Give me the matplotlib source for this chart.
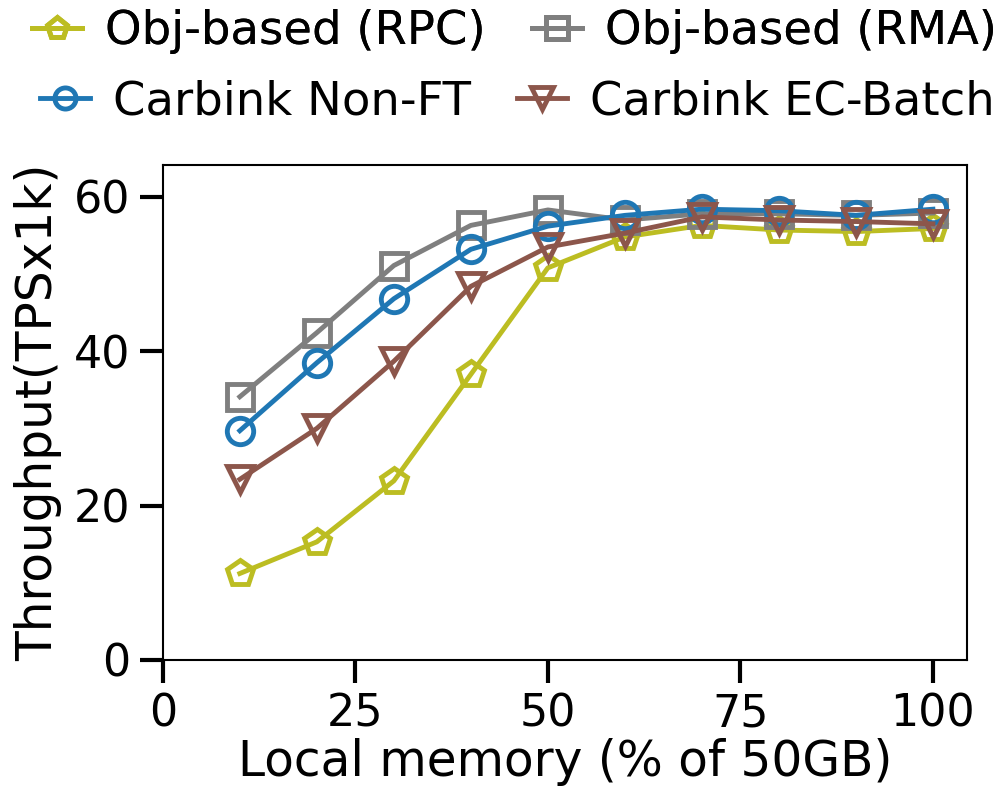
import matplotlib
matplotlib.use("Agg")
import matplotlib.pyplot as plt

x = [10, 20, 30, 40, 50, 60, 70, 80, 90, 100]
rpc = [11.2, 15.3, 23.2, 37.0, 50.8, 54.8, 56.3, 55.7, 55.5, 55.9]
rma = [34.1, 42.4, 51.1, 56.3, 58.3, 57.0, 57.8, 57.8, 57.6, 57.9]
nonft = [29.7, 38.5, 46.8, 53.2, 56.2, 57.6, 58.4, 58.2, 57.6, 58.4]
ecbatch = [23.4, 30.0, 38.7, 48.4, 53.5, 55.3, 57.4, 57.0, 56.8, 56.5]

labels = ["Obj-based (RPC)", "Obj-based (RMA)", "Carbink Non-FT", "Carbink EC-Batch"]
xticks = [0, 25, 50, 75, 100]
yticks = [0, 20, 40, 60]

fig = plt.figure(figsize=(10.05, 7.98), dpi=100)
ax = fig.add_axes([0.162, 0.173, 0.8, 0.62])

kw = dict(lw=3.5, ms=19, mew=3.5, mfc='none')
h1, = ax.plot(x, rpc, marker='p', color='#bcbd22', label=labels[0], **kw)
h2, = ax.plot(x, rma, marker='s', color='#7f7f7f', label=labels[1], **kw)
h3, = ax.plot(x, nonft, marker='o', color='#1f77b4', label=labels[2], **kw)
h4, = ax.plot(x, ecbatch, marker='v', color='#8c564b', label=labels[3], **kw)

ax.set_xlim(0, 104.4)
ax.set_ylim(0, 64.1)
ax.set_xticks(xticks)
ax.set_yticks(yticks)
ax.tick_params(axis='both', labelsize=32, length=16.5, width=3, pad=7)
for s in ax.spines.values():
    s.set_linewidth(1.5)
ax.set_xlabel("Local memory (% of 50GB)", fontsize=35, labelpad=2)
ax.set_ylabel("Throughput(TPSx1k)", fontsize=35, labelpad=8)

legkw = dict(ncol=2, loc='center', frameon=False, fontsize=33.5,
             handlelength=1.06, columnspacing=1.0, handletextpad=0.5,
             markerscale=0.8, borderpad=0, borderaxespad=0)
leg1 = fig.legend([h1, h2], [labels[0], labels[1]],
                  bbox_to_anchor=(0.512, 1 - 32 / 798), **legkw)
fig.add_artist(leg1)
leg2 = fig.legend([h3, h4], [labels[2], labels[3]],
                  bbox_to_anchor=(0.515, 1 - 102 / 798), **legkw)

fig.savefig("out.png", dpi=100)
